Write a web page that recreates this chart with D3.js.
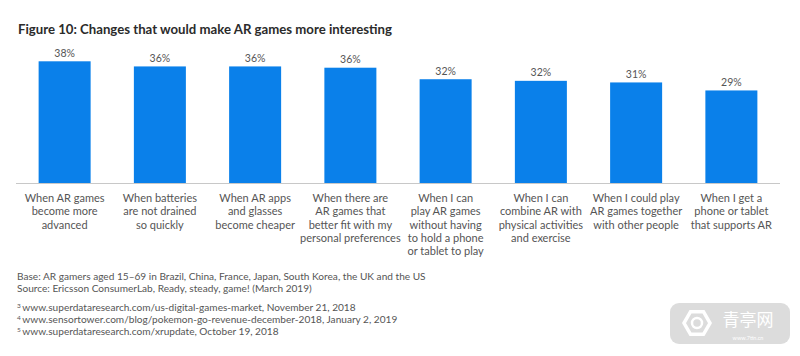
<!DOCTYPE html>
<html><head><meta charset="utf-8">
<script src="https://cdn.jsdelivr.net/npm/d3@7"></script>
<style>body{margin:0;background:#fff}svg{display:block}</style>
</head><body>
<svg id="c" width="800" height="356"></svg>
<script>
const categories = [
  ["When AR games","become more","advanced"],
  ["When batteries","are not drained","so quickly"],
  ["When AR apps","and glasses","become cheaper"],
  ["When there are","AR games that","better fit with my","personal preferences"],
  ["When I can","play AR games","without having","to hold a phone","or tablet to play"],
  ["When I can","combine AR with","physical activities","and exercise"],
  ["When I could play","AR games together","with other people"],
  ["When I get a","phone or tablet","that supports AR"]
];
const values = [38, 36.4, 36.4, 36, 32.4, 31.9, 31.4, 28.9];
const valueLabels = ["38%","36%","36%","36%","32%","32%","31%","29%"];
const title = "Figure 10: Changes that would make AR games more interesting";
const notes = [
  "Base: AR gamers aged 15\u201369 in Brazil, China, France, Japan, South Korea, the UK and the US",
  "Source: Ericsson ConsumerLab, Ready, steady, game! (March 2019)"
];
const footnotes = [
  ["3","www.superdataresearch.com/us-digital-games-market, November 21, 2018"],
  ["4","www.sensortower.com/blog/pokemon-go-revenue-december-2018, January 2, 2019"],
  ["5","www.superdataresearch.com/xrupdate, October 19, 2018"]
];

const svg = d3.select("#c");
const font = "Lato, 'Open Sans', sans-serif";
const baseY = 183;
const x = d3.scaleBand().domain(d3.range(values.length)).range([17, 779])
  .paddingInner(0.454).paddingOuter(0.227);
const y = d3.scaleLinear().domain([0, 38]).range([baseY, 61.3]);

svg.append("text").attr("x", 18).attr("y", 34).attr("font-family", font)
  .attr("font-weight", 700).attr("font-size", 13.2).attr("fill", "#2b2b2b").text(title);

svg.append("line").attr("x1", 16).attr("x2", 780).attr("y1", baseY + 0.5).attr("y2", baseY + 0.5)
  .attr("stroke", "#c8c8c8").attr("stroke-width", 1);

svg.selectAll("rect.bar").data(values).enter().append("rect").attr("class", "bar")
  .attr("x", (d, i) => x(i)).attr("width", x.bandwidth())
  .attr("y", d => y(d)).attr("height", d => baseY - y(d)).attr("fill", "#0a80ea");

svg.selectAll("text.val").data(values).enter().append("text").attr("class", "val")
  .attr("x", (d, i) => x(i) + x.bandwidth() / 2).attr("y", d => y(d) - 4.5)
  .attr("text-anchor", "middle").attr("font-family", font).attr("font-size", 10.5)
  .attr("fill", "#555").text((d, i) => valueLabels[i]);

const cat = svg.selectAll("text.cat").data(categories).enter().append("text").attr("class", "cat")
  .attr("text-anchor", "middle").attr("font-family", font).attr("font-size", 11)
  .attr("fill", "#555");
cat.selectAll("tspan").data((d, i) => d.map(s => ({s, i}))).enter().append("tspan")
  .attr("x", d => x(d.i) + x.bandwidth() / 2).attr("y", (d, j) => 202 + j * 13.3).text(d => d.s);

notes.forEach((t, i) => svg.append("text").attr("x", 17).attr("y", 280 + i * 12)
  .attr("font-family", font).attr("font-size", 10.1).attr("fill", "#555").text(t));

footnotes.forEach((f, i) => {
  const t = svg.append("text").attr("x", 17).attr("y", 311 + i * 12)
    .attr("font-family", font).attr("font-size", 10.1).attr("fill", "#555");
  t.append("tspan").attr("font-size", 6.5).attr("dy", -3.5).text(f[0]);
  t.append("tspan").attr("dy", 3.5).attr("dx", 1.5).text(f[1]);
});

// watermark
const wm = svg.append("g").attr("opacity", 0.9);
wm.append("rect").attr("x", 670).attr("y", 303).attr("width", 120).attr("height", 41).attr("rx", 9)
  .attr("fill", "#d9d9d9");
const hex = d3.range(6).map(k => [697 + 13 * Math.cos(Math.PI / 3 * k), 323 + 13 * Math.sin(Math.PI / 3 * k)]);
wm.append("polygon").attr("points", hex.map(p => p.join(",")).join(" ")).attr("fill", "none")
  .attr("stroke", "#fff").attr("stroke-width", 3.5);
wm.append("circle").attr("cx", 697).attr("cy", 323).attr("r", 5).attr("fill", "none").attr("stroke", "#fff").attr("stroke-width", 2.5);
wm.append("text").attr("x", 748).attr("y", 326).attr("text-anchor", "middle")
  .attr("font-family", "'Noto Sans CJK SC'").attr("font-size", 17).attr("fill", "#fff").text("青亭网");
wm.append("text").attr("x", 748).attr("y", 340).attr("text-anchor", "middle")
  .attr("font-family", font).attr("font-size", 5.5).attr("fill", "#fff").text("www.7tin.cn");
</script>
</body></html>
